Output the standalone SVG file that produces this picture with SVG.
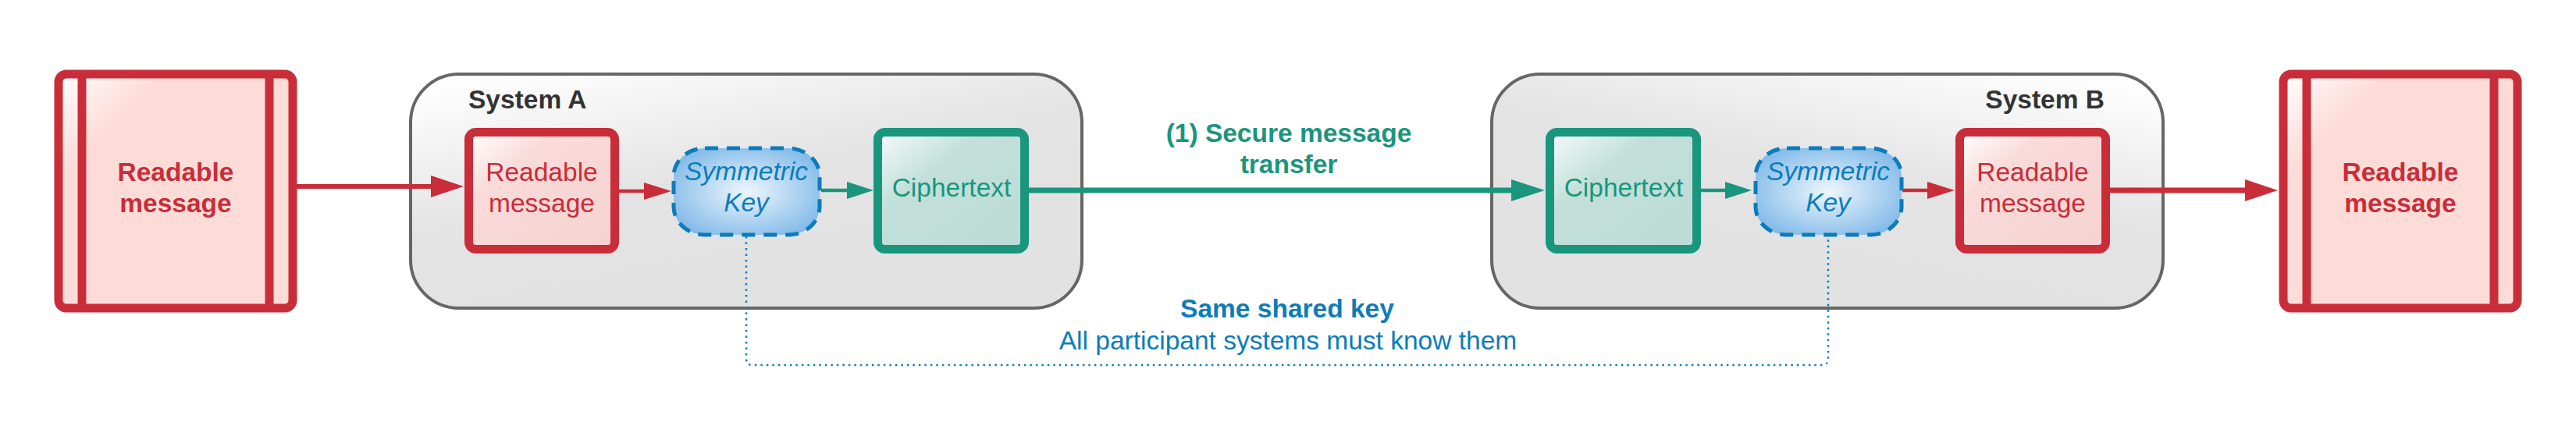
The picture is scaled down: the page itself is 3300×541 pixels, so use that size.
<svg xmlns="http://www.w3.org/2000/svg" width="3300" height="541" viewBox="0 0 3300 541">
<style>
text{font-family:"Liberation Sans",Arial,sans-serif;font-size:33.5px;}
.b{font-weight:bold;}
.it{font-style:italic;}
.red{fill:#c92d39;}
.grn{fill:#19967d;}
.blu{fill:#0c7cba;}
.dark{fill:#333333;}
.sys{stroke:#666666;stroke-width:4;}
.rbox{stroke:#c92d39;stroke-width:11;}
.gbox{stroke:#19967d;stroke-width:11;fill:url(#gCip);}
.key{stroke:#0c7cba;stroke-width:5;stroke-dasharray:17 11;fill:url(#gKey);}
.rl{stroke:#c92d39;fill:none;}
.gl{stroke:#19967d;fill:none;}
</style>
<defs>
<linearGradient id="gOuter" x1="0" y1="0" x2="1" y2="1">
<stop offset="0" stop-color="#ffffff"/><stop offset="0.22" stop-color="#fddcd8"/><stop offset="1" stop-color="#fddcd8"/>
</linearGradient>
<linearGradient id="gRead" x1="0" y1="0" x2="1" y2="1">
<stop offset="0" stop-color="#ffffff"/><stop offset="0.3" stop-color="#f9dbd9"/><stop offset="1" stop-color="#f5d2d0"/>
</linearGradient>
<linearGradient id="gCip" x1="0" y1="0" x2="1" y2="1">
<stop offset="0" stop-color="#f6fbfa"/><stop offset="0.35" stop-color="#c2e0d9"/><stop offset="1" stop-color="#bcdcd5"/>
</linearGradient>
<radialGradient id="gKey" cx="0.5" cy="0.5" r="0.6">
<stop offset="0" stop-color="#eef6fd"/><stop offset="1" stop-color="#80b9e8"/>
</radialGradient>
<linearGradient id="gSysA" x1="0" y1="0.1" x2="0.45" y2="0.9">
<stop offset="0" stop-color="#fdfdfd"/><stop offset="0.55" stop-color="#e4e4e4"/><stop offset="1" stop-color="#e2e2e2"/>
</linearGradient>
<linearGradient id="gSysB" x1="1" y1="0.1" x2="0.55" y2="0.9">
<stop offset="0" stop-color="#fdfdfd"/><stop offset="0.55" stop-color="#e4e4e4"/><stop offset="1" stop-color="#e2e2e2"/>
</linearGradient>
<marker id="mRedBig" markerUnits="userSpaceOnUse" markerWidth="42" markerHeight="28" viewBox="0 0 42 28" refX="0" refY="14" orient="auto"><path d="M0,0 L42,14 L0,28 z" fill="#c92d39"/></marker>
<marker id="mRedSm" markerUnits="userSpaceOnUse" markerWidth="35" markerHeight="22" viewBox="0 0 35 22" refX="0" refY="11" orient="auto"><path d="M0,0 L35,11 L0,22 z" fill="#c92d39"/></marker>
<marker id="mGrnBig" markerUnits="userSpaceOnUse" markerWidth="43" markerHeight="28" viewBox="0 0 43 28" refX="0" refY="14" orient="auto"><path d="M0,0 L43,14 L0,28 z" fill="#19967d"/></marker>
<marker id="mGrnSm" markerUnits="userSpaceOnUse" markerWidth="34" markerHeight="22" viewBox="0 0 34 22" refX="0" refY="11" orient="auto"><path d="M0,0 L34,11 L0,22 z" fill="#19967d"/></marker>
</defs>

<g id="systemA">
<rect class="sys" x="526" y="95" width="860" height="300" rx="62" ry="62" fill="url(#gSysA)"/>
<text class="b dark" x="600" y="139">System A</text>
</g>
<g id="systemB">
<rect class="sys" x="1911" y="95" width="860" height="300" rx="62" ry="62" fill="url(#gSysB)"/>
<text class="b dark" x="2696" y="139" text-anchor="end">System B</text>
</g>

<g id="connectors">
<path class="rl" stroke-width="6" d="M380,239 H552" marker-end="url(#mRedBig)"/>
<path class="rl" stroke-width="4.5" d="M793,245 H825" marker-end="url(#mRedSm)"/>
<path class="gl" stroke-width="4.5" d="M1052,244 H1085" marker-end="url(#mGrnSm)"/>
<path class="gl" stroke-width="7" d="M1318,244 H1936" marker-end="url(#mGrnBig)"/>
<path class="gl" stroke-width="4.5" d="M2179,244 H2210" marker-end="url(#mGrnSm)"/>
<path class="rl" stroke-width="4.5" d="M2437,244 H2469" marker-end="url(#mRedSm)"/>
<path class="rl" stroke-width="7" d="M2703,244 H2876" marker-end="url(#mRedBig)"/>
<path d="M956,303 V460 Q956,468 964,468 H2334 Q2342,468 2342,460 V303" fill="none" stroke="#0c7cba" stroke-width="2.5" stroke-dasharray="2.5 5"/>
<text class="b grn" x="1651" y="182" text-anchor="middle">(1) Secure message</text>
<text class="b grn" x="1651" y="222" text-anchor="middle">transfer</text>
<text class="b blu" x="1649" y="407" text-anchor="middle">Same shared key</text>
<text class="blu" x="1650" y="448" text-anchor="middle">All participant systems must know them</text>
</g>

<g id="inputMessage">
<rect class="rbox" x="75" y="95" width="300" height="300" rx="10" fill="url(#gOuter)"/>
<line class="rl" stroke-width="11" x1="105" y1="95" x2="105" y2="395"/>
<line class="rl" stroke-width="11" x1="345" y1="95" x2="345" y2="395"/>
<text class="b red" x="225" y="232" text-anchor="middle">Readable</text>
<text class="b red" x="225" y="272" text-anchor="middle">message</text>
</g>

<g id="readableA">
<rect class="rbox" x="600.5" y="169.5" width="187" height="150" rx="9" fill="url(#gRead)"/>
<text class="red" x="694" y="232" text-anchor="middle">Readable</text>
<text class="red" x="694" y="272" text-anchor="middle">message</text>
</g>

<g id="keyA">
<rect class="key" x="863" y="190" width="187" height="111" rx="40" ry="36"/>
<text class="it blu" x="956" y="231" text-anchor="middle">Symmetric</text>
<text class="it blu" x="956" y="271" text-anchor="middle">Key</text>
</g>

<g id="cipherA">
<rect class="gbox" x="1124.5" y="169.5" width="188" height="150" rx="9"/>
<text class="grn" x="1219" y="252" text-anchor="middle">Ciphertext</text>
</g>

<g id="cipherB">
<rect class="gbox" x="1985.5" y="169.5" width="188" height="150" rx="9"/>
<text class="grn" x="2080" y="252" text-anchor="middle">Ciphertext</text>
</g>

<g id="keyB">
<rect class="key" x="2249" y="190" width="187" height="111" rx="40" ry="36"/>
<text class="it blu" x="2342" y="231" text-anchor="middle">Symmetric</text>
<text class="it blu" x="2342" y="271" text-anchor="middle">Key</text>
</g>

<g id="readableB">
<rect class="rbox" x="2510.5" y="169.5" width="187" height="150" rx="9" fill="url(#gRead)"/>
<text class="red" x="2604" y="232" text-anchor="middle">Readable</text>
<text class="red" x="2604" y="272" text-anchor="middle">message</text>
</g>

<g id="outputMessage">
<rect class="rbox" x="2925" y="95" width="300" height="300" rx="10" fill="url(#gOuter)"/>
<line class="rl" stroke-width="11" x1="2955" y1="95" x2="2955" y2="395"/>
<line class="rl" stroke-width="11" x1="3195" y1="95" x2="3195" y2="395"/>
<text class="b red" x="3075" y="232" text-anchor="middle">Readable</text>
<text class="b red" x="3075" y="272" text-anchor="middle">message</text>
</g>
</svg>
